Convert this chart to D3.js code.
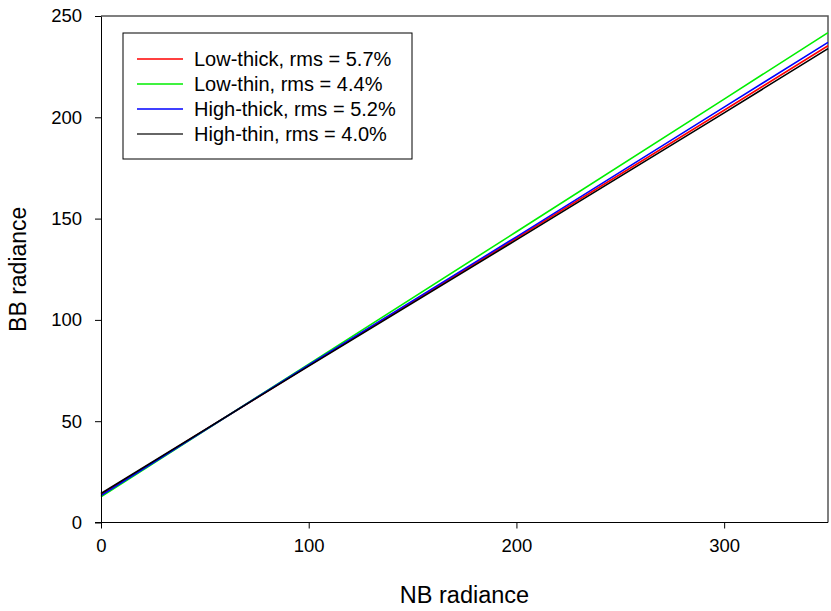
<!DOCTYPE html>
<html>
<head>
<meta charset="utf-8">
<script src="https://cdn.jsdelivr.net/npm/d3@7/dist/d3.min.js"></script>
<style>
  html, body { margin: 0; padding: 0; background: #fff; }
  svg { display: block; font-family: "Liberation Sans", Arial, sans-serif; }
</style>
</head>
<body>
<svg id="chart" width="831" height="611"></svg>
<script>
// NB radiance sample positions
const nbRadiance = [0, 100, 200, 300, 350];

// BB radiance for each retrieval case
const lowThick  = [13.8, 77.5, 140.3, 203.5, 235.3];
const lowThin   = [12.7, 78.2, 143.5, 209.0, 241.8];
const highThick = [13.3, 77.8, 141.0, 205.0, 237.0];
const highThin  = [14.3, 77.2, 139.5, 202.2, 233.9];

const seriesNames  = ["Low-thick, rms = 5.7%", "Low-thin, rms = 4.4%", "High-thick, rms = 5.2%", "High-thin, rms = 4.0%"];
const seriesColors = ["#ff0000", "#00ee00", "#0000ff", "#000000"];
const seriesValues = [lowThick, lowThin, highThick, highThin];

const xTicks = [0, 100, 200, 300];
const yTicks = [0, 50, 100, 150, 200, 250];

const FONT = "'Liberation Sans', Arial, sans-serif";
const width = 831, height = 611;
const margin = { left: 101, right: 3, top: 16, bottom: 88.5 };

const svg = d3.select("#chart");

const x = d3.scaleLinear().domain([0, 350]).range([margin.left, width - margin.right]);
const y = d3.scaleLinear().domain([0, 250]).range([height - margin.bottom, margin.top]);

// frame: top and right edges
svg.append("path")
  .attr("d", `M${x(0)},${y(250)}H${x(350)}V${y(0)}`)
  .attr("fill", "none")
  .attr("stroke", "#555")
  .attr("stroke-width", 1.5);

// series lines
const line = d3.line()
  .x((d, i) => x(nbRadiance[i]))
  .y(d => y(d));

seriesValues.forEach((vals, k) => {
  svg.append("path")
    .datum(vals)
    .attr("d", line)
    .attr("fill", "none")
    .attr("stroke", seriesColors[k])
    .attr("stroke-width", 1.6);
});

// x axis
const xAxis = svg.append("g")
  .attr("transform", `translate(0,${y(0)})`)
  .call(d3.axisBottom(x).tickValues(xTicks).tickSize(6).tickPadding(10).tickSizeOuter(0));
xAxis.select(".domain").attr("stroke", "#000").attr("d", `M${x(0) - 6},0H${x(350)}`);
xAxis.selectAll("text").attr("font-size", 18.5).attr("fill", "#000").attr("font-family", FONT);

// y axis
const yAxis = svg.append("g")
  .attr("transform", `translate(${x(0)},0)`)
  .call(d3.axisLeft(y).tickValues(yTicks).tickSize(6).tickPadding(13).tickSizeOuter(0));
yAxis.select(".domain").attr("stroke", "#000");
yAxis.selectAll("text").attr("font-size", 18.5).attr("fill", "#000").attr("font-family", FONT);

// axis titles
svg.append("text")
  .attr("x", (x(0) + x(350)) / 2)
  .attr("y", 603)
  .attr("text-anchor", "middle")
  .attr("font-family", FONT)
  .attr("font-size", 23.5)
  .text("NB radiance");

svg.append("text")
  .attr("transform", `translate(26,${(y(0) + y(250)) / 2}) rotate(-90)`)
  .attr("text-anchor", "middle")
  .attr("font-family", FONT)
  .attr("font-size", 23)
  .text("BB radiance");

// legend
const lg = svg.append("g").attr("transform", "translate(123,33)");
lg.append("rect")
  .attr("width", 289).attr("height", 126)
  .attr("fill", "#fff").attr("stroke", "#000").attr("stroke-width", 1);
seriesNames.forEach((name, k) => {
  const cy = 26 + k * 25;
  lg.append("line")
    .attr("x1", 14).attr("x2", 60).attr("y1", cy).attr("y2", cy)
    .attr("stroke", seriesColors[k] === "#000000" ? "#333" : seriesColors[k])
    .attr("stroke-width", 1.5);
  lg.append("text")
    .attr("x", 71).attr("y", cy + 7)
    .attr("font-family", FONT)
    .attr("font-size", 20)
    .text(name);
});
</script>
</body>
</html>
